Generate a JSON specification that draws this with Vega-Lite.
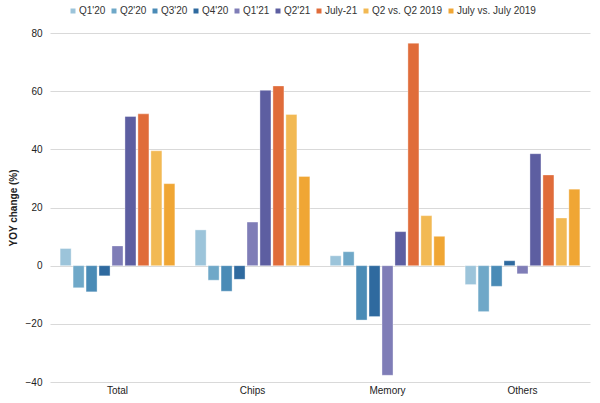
{
  "$schema": "https://vega.github.io/schema/vega-lite/v6.json",
  "autosize": {"type": "fit", "contains": "padding"},
  "width": 600,
  "height": 403,
  "padding": {"left": 8, "right": 10, "top": 28, "bottom": 8},
  "config": {
    "font": "Liberation Sans",
    "view": {"stroke": null},
    "axis": {"labelFont": "Liberation Sans", "titleFont": "Liberation Sans"}
  },
  "data": {
    "values": [
      {"cat": "Total", "series": "Q1'20", "v": 5.9},
      {"cat": "Total", "series": "Q2'20", "v": -7.6},
      {"cat": "Total", "series": "Q3'20", "v": -9.0},
      {"cat": "Total", "series": "Q4'20", "v": -3.5},
      {"cat": "Total", "series": "Q1'21", "v": 6.8},
      {"cat": "Total", "series": "Q2'21", "v": 51.3},
      {"cat": "Total", "series": "July-21", "v": 52.2},
      {"cat": "Total", "series": "Q2 vs. Q2 2019", "v": 39.5},
      {"cat": "Total", "series": "July vs. July 2019", "v": 28.2},
      {"cat": "Chips", "series": "Q1'20", "v": 12.3},
      {"cat": "Chips", "series": "Q2'20", "v": -5.0},
      {"cat": "Chips", "series": "Q3'20", "v": -8.8},
      {"cat": "Chips", "series": "Q4'20", "v": -4.7},
      {"cat": "Chips", "series": "Q1'21", "v": 15.0},
      {"cat": "Chips", "series": "Q2'21", "v": 60.3},
      {"cat": "Chips", "series": "July-21", "v": 61.8},
      {"cat": "Chips", "series": "Q2 vs. Q2 2019", "v": 52.0},
      {"cat": "Chips", "series": "July vs. July 2019", "v": 30.7},
      {"cat": "Memory", "series": "Q1'20", "v": 3.4},
      {"cat": "Memory", "series": "Q2'20", "v": 4.8},
      {"cat": "Memory", "series": "Q3'20", "v": -18.7},
      {"cat": "Memory", "series": "Q4'20", "v": -17.5},
      {"cat": "Memory", "series": "Q1'21", "v": -37.7},
      {"cat": "Memory", "series": "Q2'21", "v": 11.7},
      {"cat": "Memory", "series": "July-21", "v": 76.5},
      {"cat": "Memory", "series": "Q2 vs. Q2 2019", "v": 17.2},
      {"cat": "Memory", "series": "July vs. July 2019", "v": 10.1},
      {"cat": "Others", "series": "Q1'20", "v": -6.5},
      {"cat": "Others", "series": "Q2'20", "v": -15.8},
      {"cat": "Others", "series": "Q3'20", "v": -7.1},
      {"cat": "Others", "series": "Q4'20", "v": 1.7},
      {"cat": "Others", "series": "Q1'21", "v": -2.8},
      {"cat": "Others", "series": "Q2'21", "v": 38.5},
      {"cat": "Others", "series": "July-21", "v": 31.2},
      {"cat": "Others", "series": "Q2 vs. Q2 2019", "v": 16.4},
      {"cat": "Others", "series": "July vs. July 2019", "v": 26.3}
    ]
  },
  "mark": {"type": "bar", "stroke": "#ffffff", "strokeWidth": 0.6, "strokeOpacity": 0.6},
  "encoding": {
    "x": {
      "field": "cat",
      "type": "nominal",
      "sort": ["Total", "Chips", "Memory", "Others"],
      "scale": {"paddingInner": 0.15, "paddingOuter": 0.075},
      "axis": {"title": null, "labelAngle": 0, "domain": false, "ticks": false, "labelFontSize": 10, "labelColor": "#222", "labelPadding": 3}
    },
    "xOffset": {
      "field": "series",
      "type": "nominal",
      "sort": ["Q1'20", "Q2'20", "Q3'20", "Q4'20", "Q1'21", "Q2'21", "July-21", "Q2 vs. Q2 2019", "July vs. July 2019"],
      "scale": {"paddingInner": 0.15}
    },
    "y": {
      "field": "v",
      "type": "quantitative",
      "scale": {"domain": [-40, 80], "nice": false},
      "axis": {"title": "YOY change (%)", "titleFontWeight": "bold", "titleFontSize": 10, "titleColor": "#222", "values": [-40, -20, 0, 20, 40, 60, 80], "domain": false, "ticks": false, "labelFontSize": 10, "labelColor": "#222", "gridColor": "#d9d9d9", "gridWidth": 1, "labelPadding": 8, "titlePadding": 7}
    },
    "color": {
      "field": "series",
      "type": "nominal",
      "sort": ["Q1'20", "Q2'20", "Q3'20", "Q4'20", "Q1'21", "Q2'21", "July-21", "Q2 vs. Q2 2019", "July vs. July 2019"],
      "scale": {
        "domain": ["Q1'20", "Q2'20", "Q3'20", "Q4'20", "Q1'21", "Q2'21", "July-21", "Q2 vs. Q2 2019", "July vs. July 2019"],
        "range": ["#9cc4da", "#6fa8c8", "#4a8bb6", "#2f6a9f", "#7f7db7", "#5d5ea1", "#e06c3a", "#f2b953", "#f0a634"]
      },
      "legend": {"title": null, "orient": "none", "legendX": 18, "legendY": -27, "direction": "horizontal", "symbolType": "square", "symbolSize": 25, "symbolStrokeWidth": 0, "labelFontSize": 10, "labelColor": "#333", "columnPadding": 3, "symbolOffset": 0, "labelOffset": 1}
    }
  }
}
